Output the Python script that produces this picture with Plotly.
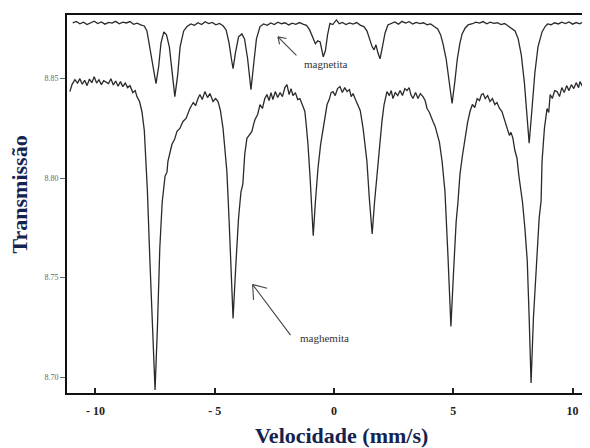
import plotly.graph_objects as go

# magnetita spectrum (upper trace)
mag_x = [-10.95, -10.8, -10.65, -10.5, -10.35, -10.2, -10.05, -9.9, -9.75, -9.6, -9.45, -9.3, -9.15, -9.0,
         -8.85, -8.7, -8.55, -8.4, -8.25, -8.1, -7.95, -7.84, -7.72, -7.6, -7.46, -7.35, -7.25, -7.13,
         -7.02, -6.9, -6.8, -6.67, -6.55, -6.45, -6.3, -6.16, -6.0, -5.85, -5.7, -5.55, -5.4, -5.25, -5.1,
         -4.95, -4.8, -4.65, -4.52, -4.4, -4.3, -4.23, -4.13, -4.0, -3.86, -3.75, -3.62, -3.48, -3.36,
         -3.25, -3.1, -2.95, -2.8, -2.65, -2.5, -2.35, -2.2, -2.05, -1.9, -1.75, -1.6, -1.45, -1.3, -1.15,
         -1.02, -0.9, -0.78, -0.68, -0.58, -0.45, -0.36, -0.27, -0.17, -0.05, 0.1, 0.22, 0.35, 0.5, 0.65,
         0.8, 0.95, 1.1, 1.25, 1.38, 1.5, 1.6, 1.68, 1.76, 1.84, 1.93, 2.03, 2.14, 2.26, 2.4, 2.55, 2.7,
         2.85, 3.0, 3.15, 3.3, 3.45, 3.6, 3.75, 3.9, 4.05, 4.2, 4.35, 4.47, 4.57, 4.7, 4.82, 4.95, 5.06,
         5.17, 5.28, 5.37, 5.5, 5.62, 5.8, 5.95, 6.1, 6.25, 6.4, 6.55, 6.7, 6.85, 7.0, 7.15, 7.3, 7.45,
         7.59, 7.72, 7.85, 7.98, 8.08, 8.18, 8.3, 8.42, 8.55, 8.72, 8.85, 8.95, 9.1, 9.25, 9.4, 9.55, 9.7,
         9.85, 10.0, 10.15, 10.3, 10.45, 10.6, 10.73]
mag_y = [8.8780, 8.8788, 8.8776, 8.8784, 8.8772, 8.8781, 8.8789, 8.8777, 8.8785, 8.8774, 8.8783, 8.8779,
         8.8788, 8.8776, 8.8784, 8.8780, 8.8787, 8.8773, 8.8779, 8.8770, 8.8765, 8.8740, 8.8660, 8.8560,
         8.8475, 8.8560, 8.8680, 8.8735, 8.8720, 8.8660, 8.8540, 8.8410, 8.8520, 8.8660, 8.8740, 8.8762,
         8.8775, 8.8768, 8.8781, 8.8772, 8.8786, 8.8777, 8.8783, 8.8771, 8.8778, 8.8766, 8.8745, 8.8680,
         8.8600, 8.8550, 8.8630, 8.8710, 8.8725, 8.8700, 8.8600, 8.8445, 8.8580, 8.8700, 8.8762, 8.8775,
         8.8768, 8.8780, 8.8772, 8.8784, 8.8776, 8.8781, 8.8770, 8.8779, 8.8773, 8.8782, 8.8774, 8.8768,
         8.8745, 8.8710, 8.8675, 8.8690, 8.8685, 8.8610, 8.8640, 8.8720, 8.8778, 8.8772, 8.8795, 8.8776,
         8.8783, 8.8772, 8.8780, 8.8774, 8.8782, 8.8769, 8.8762, 8.8740, 8.8700, 8.8660, 8.8645, 8.8670,
         8.8630, 8.8600, 8.8660, 8.8730, 8.8770, 8.8778, 8.8785, 8.8774, 8.8788, 8.8779, 8.8786, 8.8775,
         8.8783, 8.8777, 8.8781, 8.8771, 8.8775, 8.8762, 8.8750, 8.8720, 8.8675, 8.8600, 8.8490, 8.8375,
         8.8480, 8.8600, 8.8680, 8.8725, 8.8755, 8.8770, 8.8776, 8.8784, 8.8779, 8.8787, 8.8776, 8.8784,
         8.8778, 8.8781, 8.8772, 8.8777, 8.8765, 8.8752, 8.8740, 8.8700, 8.8620, 8.8480, 8.8320, 8.8175,
         8.8350, 8.8530, 8.8660, 8.8735, 8.8762, 8.8775, 8.8771, 8.8781, 8.8775, 8.8784, 8.8777, 8.8785,
         8.8774, 8.8782, 8.8776, 8.8786, 8.8779, 8.8782]

# maghemita spectrum (lower trace)
mgh_x = [-11.07, -10.98, -10.86, -10.75, -10.65, -10.55, -10.45, -10.35, -10.25, -10.15, -10.05, -9.95,
         -9.85, -9.75, -9.65, -9.55, -9.45, -9.35, -9.25, -9.15, -9.05, -8.95, -8.85, -8.75, -8.65, -8.55,
         -8.43, -8.33, -8.26, -8.15, -8.05, -7.95, -7.88, -7.82, -7.72, -7.6, -7.5, -7.4, -7.3, -7.2, -7.08,
         -7.0, -6.96, -6.87, -6.79, -6.68, -6.58, -6.46, -6.33, -6.2, -6.1, -6.04, -5.9, -5.8, -5.7, -5.62,
         -5.52, -5.41, -5.3, -5.2, -5.07, -4.96, -4.86, -4.76, -4.65, -4.57, -4.49, -4.4, -4.3, -4.23,
         -4.12, -4.0, -3.9, -3.82, -3.74, -3.65, -3.56, -3.44, -3.37, -3.31, -3.2, -3.1, -3.0, -2.9, -2.81,
         -2.72, -2.64, -2.56, -2.46, -2.36, -2.26, -2.16, -2.06, -1.97, -1.88, -1.8, -1.72, -1.62, -1.52,
         -1.43, -1.33, -1.22, -1.15, -1.09, -1.0, -0.93, -0.87, -0.78, -0.67, -0.56, -0.46, -0.38, -0.29,
         -0.2, -0.12, -0.04, 0.05, 0.15, 0.25, 0.35, 0.45, 0.55, 0.65, 0.72, 0.8, 0.9, 1.0, 1.1, 1.22, 1.3,
         1.38, 1.48, 1.6, 1.7, 1.8, 1.9, 2.01, 2.1, 2.22, 2.32, 2.4, 2.47, 2.57, 2.67, 2.77, 2.87, 2.97,
         3.06, 3.15, 3.22, 3.31, 3.42, 3.52, 3.62, 3.73, 3.82, 3.9, 4.0, 4.08, 4.15, 4.24, 4.32, 4.42, 4.53,
         4.65, 4.78, 4.9, 5.02, 5.12, 5.2, 5.28, 5.38, 5.49, 5.6, 5.7, 5.8, 5.9, 6.0, 6.1, 6.18, 6.25, 6.34,
         6.44, 6.54, 6.64, 6.74, 6.83, 6.94, 7.04, 7.14, 7.25, 7.35, 7.42, 7.5, 7.58, 7.67, 7.75, 7.8, 7.9,
         8.0, 8.1, 8.18, 8.26, 8.36, 8.5, 8.6, 8.68, 8.72, 8.82, 8.93, 9.0, 9.06, 9.15, 9.25, 9.35, 9.45,
         9.55, 9.65, 9.75, 9.85, 9.95, 10.05, 10.15, 10.25, 10.31, 10.42, 10.52, 10.62, 10.73]
mgh_y = [8.8435, 8.8470, 8.8495, 8.8478, 8.8500, 8.8472, 8.8492, 8.8465, 8.8498, 8.8480, 8.8510, 8.8478,
         8.8495, 8.8470, 8.8490, 8.8484, 8.8475, 8.8500, 8.8468, 8.8488, 8.8462, 8.8485, 8.8460, 8.8478,
         8.8455, 8.8465, 8.8430, 8.8440, 8.8410, 8.8385, 8.8335, 8.8240, 8.8100, 8.7935, 8.7600, 8.7200,
         8.6935, 8.7250, 8.7650, 8.7880, 8.8010, 8.8030, 8.8085, 8.8130, 8.8170, 8.8195, 8.8235, 8.8250,
         8.8285, 8.8300, 8.8330, 8.8350, 8.8380, 8.8365, 8.8400, 8.8420, 8.8395, 8.8435, 8.8405, 8.8425,
         8.8385, 8.8400, 8.8385, 8.8340, 8.8250, 8.8150, 8.8035, 8.7800, 8.7520, 8.7295, 8.7550, 8.7800,
         8.7930, 8.7970, 8.8120, 8.8200, 8.8215, 8.8235, 8.8270, 8.8295, 8.8320, 8.8370, 8.8350, 8.8400,
         8.8420, 8.8390, 8.8430, 8.8395, 8.8435, 8.8405, 8.8430, 8.8410, 8.8455, 8.8470, 8.8420, 8.8450,
         8.8415, 8.8430, 8.8395, 8.8400, 8.8370, 8.8335, 8.8250, 8.8170, 8.8000, 8.7850, 8.7710, 8.7880,
         8.8050, 8.8170, 8.8250, 8.8310, 8.8370, 8.8395, 8.8430, 8.8435, 8.8415, 8.8450, 8.8460, 8.8430,
         8.8455, 8.8435, 8.8445, 8.8410, 8.8425, 8.8395, 8.8370, 8.8340, 8.8250, 8.8170, 8.8085, 8.7900,
         8.7720, 8.7880, 8.8020, 8.8150, 8.8285, 8.8370, 8.8435, 8.8415, 8.8440, 8.8400, 8.8430, 8.8415,
         8.8440, 8.8415, 8.8450, 8.8440, 8.8455, 8.8420, 8.8400, 8.8430, 8.8400, 8.8425, 8.8410, 8.8390,
         8.8350, 8.8330, 8.8300, 8.8285, 8.8260, 8.8220, 8.8180, 8.8085, 8.7935, 8.7600, 8.7255, 8.7550,
         8.7780, 8.7885, 8.8020, 8.8110, 8.8200, 8.8280, 8.8335, 8.8370, 8.8355, 8.8400, 8.8390, 8.8420,
         8.8425, 8.8400, 8.8415, 8.8385, 8.8400, 8.8370, 8.8380, 8.8350, 8.8335, 8.8300, 8.8250, 8.8215,
         8.8230, 8.8200, 8.8140, 8.8100, 8.8010, 8.7970, 8.7880, 8.7750, 8.7585, 8.7300, 8.6970, 8.7300,
         8.7585, 8.7800, 8.7885, 8.8085, 8.8250, 8.8350, 8.8330, 8.8420, 8.8400, 8.8440, 8.8435, 8.8410,
         8.8455, 8.8430, 8.8465, 8.8440, 8.8470, 8.8450, 8.8480, 8.8455, 8.8485, 8.8460, 8.8485, 8.8465,
         8.8475]

x_ticks = [-10, -5, 0, 5, 10]
x_labels = ['- 10', '- 5', '0', '5', '10']
y_ticks = [8.70, 8.75, 8.80, 8.85]
y_labels = ['8.70', '8.75', '8.80', '8.85']

serif = 'Liberation Serif, Times New Roman, serif'
navy = '#15234f'

fig = go.Figure()
fig.add_trace(go.Scatter(x=mag_x, y=mag_y, mode='lines', line=dict(color='#2a2a2a', width=1.3),
                         showlegend=False))
fig.add_trace(go.Scatter(x=mgh_x, y=mgh_y, mode='lines', line=dict(color='#2a2a2a', width=1.3),
                         showlegend=False))


def arrow(tip_x, tip_y, tail, barbs):
    # shaft + two open barbs, offsets in pixels from the tip
    for ax, ay in [tail] + barbs:
        fig.add_annotation(x=tip_x, y=tip_y, ax=ax, ay=ay, axref='pixel', ayref='pixel',
                           text='', showarrow=True, arrowhead=0, arrowwidth=1.1,
                           arrowcolor='#444', standoff=0, startstandoff=0)


arrow(-2.35, 8.871, (20, 20), [(10, 2), (2, 9)])
arrow(-3.41, 8.7465, (39, 52), [(16, 4), (1, 17)])

fig.add_annotation(x=-0.34, y=8.8575, text='magnetita', showarrow=False,
                   font=dict(family=serif, size=11, color='#333'))
fig.add_annotation(x=-0.38, y=8.7195, text='maghemita', showarrow=False,
                   font=dict(family=serif, size=11, color='#333'))

fig.add_annotation(xref='paper', yref='paper', x=0.524, y=-0.113, xanchor='center', yanchor='middle',
                   text='<b>Velocidade (mm/s)</b>', showarrow=False,
                   font=dict(family=serif, size=22, color=navy))
fig.add_annotation(xref='paper', yref='paper', x=-0.0899, y=0.525, xanchor='center', yanchor='middle',
                   text='<b>Transmissão</b>', textangle=-90, showarrow=False,
                   font=dict(family=serif, size=22, color=navy))

fig.update_xaxes(range=[-11.19, 10.73], showline=True, linecolor='#111', linewidth=2, mirror=True,
                 showgrid=False, zeroline=False, ticks='inside', ticklen=5, tickwidth=1.5,
                 tickcolor='#222', tickvals=x_ticks, ticktext=['<b>%s</b>' % t for t in x_labels],
                 tickfont=dict(family=serif, size=12, color='#222'), ticklabelstandoff=6)
fig.update_yaxes(range=[8.692, 8.882], showline=True, linecolor='#111', linewidth=2,
                 showgrid=False, zeroline=False, ticks='outside', ticklen=5, tickwidth=1,
                 tickcolor='#666', tickvals=y_ticks, ticktext=y_labels,
                 tickfont=dict(family=serif, size=8, color='#666'))

# the page body adds an 8px offset, so margins are trimmed to keep the plot where the reference has it
fig.update_layout(width=590, height=448, margin=dict(l=59, r=8, t=5, b=63),
                  plot_bgcolor='white', paper_bgcolor='white', showlegend=False)

fig.write_html('out.html')
